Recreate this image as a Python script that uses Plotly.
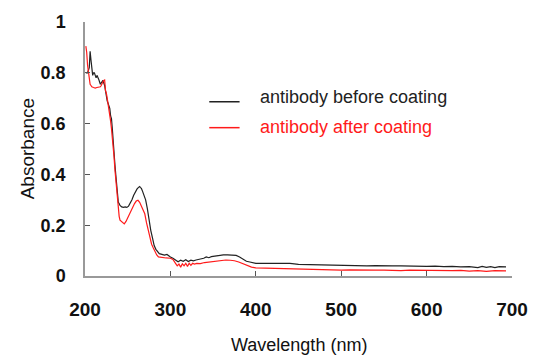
import plotly.graph_objects as go

# Wavelength (nm) and absorbance, antibody before coating (black)
wl_before = [201, 203, 205, 206, 207, 208, 209, 210, 211, 212, 213, 214, 215, 216, 217, 218, 219,
             220, 221, 222, 223, 224, 225, 226, 227, 228, 229, 230, 231, 232, 233, 234, 235, 236,
             237, 238, 239, 240, 241, 243, 245, 247, 249, 251, 253, 255, 257, 259, 261, 263, 264,
             265, 266, 267, 269, 271, 273, 275, 277, 279, 281, 283, 285, 287, 290, 293, 296, 298,
             300, 303, 306, 309, 312, 315, 318, 321, 324, 327, 330, 333, 336, 339, 342, 345, 348,
             351, 354, 357, 362, 367, 372, 377, 381, 385, 389, 393, 397, 400, 410, 420, 430, 440,
             450, 460, 470, 480, 490, 500, 510, 520, 530, 540, 550, 560, 570, 580, 590, 600, 610,
             620, 630, 640, 650, 660, 665, 670, 675, 680, 685, 690, 693]
abs_before = [0.80, 0.80, 0.82, 0.885, 0.85, 0.80, 0.79, 0.80, 0.80, 0.79, 0.78, 0.79, 0.785, 0.775,
              0.765, 0.755, 0.76, 0.765, 0.77, 0.76, 0.75, 0.73, 0.70, 0.69, 0.68, 0.67, 0.66, 0.63,
              0.62, 0.58, 0.52, 0.48, 0.44, 0.40, 0.36, 0.31, 0.29, 0.285, 0.278, 0.272, 0.27, 0.272,
              0.27, 0.275, 0.285, 0.3, 0.318, 0.333, 0.343, 0.35, 0.352, 0.348, 0.345, 0.337, 0.32,
              0.30, 0.265, 0.22, 0.18, 0.15, 0.12, 0.105, 0.095, 0.088, 0.085, 0.082, 0.085, 0.078,
              0.075, 0.07, 0.062, 0.056, 0.062, 0.058, 0.064, 0.057, 0.062, 0.06, 0.063, 0.065, 0.068,
              0.07, 0.075, 0.072, 0.076, 0.078, 0.08, 0.082, 0.083, 0.083, 0.082, 0.081, 0.075, 0.065,
              0.058, 0.055, 0.052, 0.05, 0.05, 0.05, 0.049, 0.05, 0.046, 0.045, 0.044, 0.043, 0.042,
              0.04, 0.041, 0.04, 0.04, 0.041, 0.039, 0.04, 0.04, 0.039, 0.038, 0.038, 0.039, 0.037,
              0.038, 0.036, 0.037, 0.033, 0.038, 0.034, 0.037, 0.033, 0.037, 0.035, 0.036]

# Antibody after coating (red)
wl_after = [201, 202, 203, 204, 205, 206, 207, 208, 210, 212, 214, 216, 218, 219, 220, 221, 222,
            223, 224, 225, 226, 227, 228, 229, 230, 231, 232, 233, 234, 235, 236, 237, 238, 239,
            240, 241, 243, 245, 246, 248, 250, 252, 254, 256, 258, 260, 262, 264, 266, 268, 270,
            272, 274, 276, 278, 280, 282, 284, 286, 290, 295, 300, 303, 306, 308, 310, 312, 314,
            316, 318, 320, 322, 324, 326, 328, 331, 335, 340, 345, 350, 355, 360, 365, 370, 375,
            380, 385, 390, 395, 400, 410, 420, 430, 440, 450, 460, 470, 480, 490, 500, 510, 520,
            530, 540, 550, 560, 570, 580, 590, 600, 610, 620, 630, 640, 650, 660, 670, 680, 690, 693]
abs_after = [0.905, 0.88, 0.83, 0.80, 0.77, 0.755, 0.75, 0.745, 0.742, 0.74, 0.742, 0.745, 0.745,
             0.75, 0.76, 0.765, 0.77, 0.772, 0.73, 0.72, 0.70, 0.68, 0.66, 0.64, 0.61, 0.58, 0.55,
             0.51, 0.47, 0.42, 0.38, 0.33, 0.29, 0.26, 0.235, 0.22, 0.215, 0.21, 0.205, 0.215, 0.23,
             0.245, 0.26, 0.275, 0.285, 0.295, 0.298, 0.29, 0.275, 0.265, 0.245, 0.21, 0.18, 0.15,
             0.125, 0.11, 0.095, 0.083, 0.075, 0.072, 0.071, 0.07, 0.065, 0.05, 0.04, 0.047, 0.035,
             0.048, 0.04, 0.05, 0.038, 0.05, 0.042, 0.05, 0.047, 0.05, 0.049, 0.053, 0.055, 0.057,
             0.06, 0.062, 0.063, 0.062, 0.06, 0.055, 0.048, 0.04, 0.035, 0.032, 0.031, 0.03, 0.03,
             0.029, 0.028, 0.027, 0.026, 0.025, 0.024, 0.023, 0.024, 0.023, 0.022, 0.023, 0.023,
             0.022, 0.021, 0.023, 0.022, 0.021, 0.022, 0.02, 0.021, 0.022, 0.019, 0.021, 0.018,
             0.021, 0.019, 0.02]

series_names = ["antibody before coating", "antibody after coating"]
series_colors = ["#222222", "#ff1a1a"]

x_ticks = [200, 300, 400, 500, 600, 700]
y_ticks = [0, 0.2, 0.4, 0.6, 0.8, 1]
y_ticktext = ["0", "0.2", "0.4", "0.6", "0.8", "1"]

FONT = "Arial, 'Liberation Sans', sans-serif"

fig = go.Figure()
fig.add_trace(go.Scatter(x=wl_before, y=abs_before, mode="lines", name=series_names[0],
                         line=dict(color=series_colors[0], width=1.2)))
fig.add_trace(go.Scatter(x=wl_after, y=abs_after, mode="lines", name=series_names[1],
                         line=dict(color=series_colors[1], width=1.2)))

fig.update_layout(
    width=540, height=359,
    margin=dict(l=85, r=19, t=21, b=83),
    paper_bgcolor="white", plot_bgcolor="white",
    showlegend=False,
    font=dict(family=FONT, color="#111"),
)
fig.update_xaxes(range=[200, 700], tickvals=x_ticks, showgrid=False, zeroline=False,
                 showline=True, linecolor="#999", linewidth=1.5,
                 ticks="inside", ticklen=5, tickcolor="#555", tickwidth=1,
                 tickfont=dict(size=19, family=FONT, weight="bold", color="#111"),
                 ticklabelstandoff=15)
fig.update_yaxes(range=[0, 1], tickvals=y_ticks, ticktext=y_ticktext, showgrid=False,
                 zeroline=False, showline=True, linecolor="#999", linewidth=1.5,
                 ticks="inside", ticklen=5, tickcolor="#555", tickwidth=1,
                 tickfont=dict(size=18, family=FONT, weight="bold", color="#111"),
                 ticklabelstandoff=14)

# Axis titles
fig.add_annotation(text="Wavelength (nm)", xref="paper", yref="paper", x=0.5, y=-0.27,
                   xanchor="center", yanchor="middle", showarrow=False,
                   font=dict(size=18, family=FONT, color="#111"))
fig.add_annotation(text="Absorbance", xref="paper", yref="paper", x=-0.135, y=0.5,
                   xanchor="center", yanchor="middle", textangle=-90, showarrow=False,
                   font=dict(size=19, family=FONT, color="#111"))

# Legend (manual)
legend_y_lines = [0.686, 0.584]
legend_y_text = [0.706, 0.588]
for name, color, yl, yt in zip(series_names, series_colors, legend_y_lines, legend_y_text):
    fig.add_shape(type="line", xref="paper", yref="paper", x0=0.291, x1=0.362, y0=yl, y1=yl,
                  line=dict(color=color, width=1.5))
    fig.add_annotation(text=name, xref="paper", yref="paper", x=0.404, y=yt,
                       xanchor="left", yanchor="middle", showarrow=False,
                       font=dict(size=18, family=FONT, color=color))

fig.write_html("out.html")
